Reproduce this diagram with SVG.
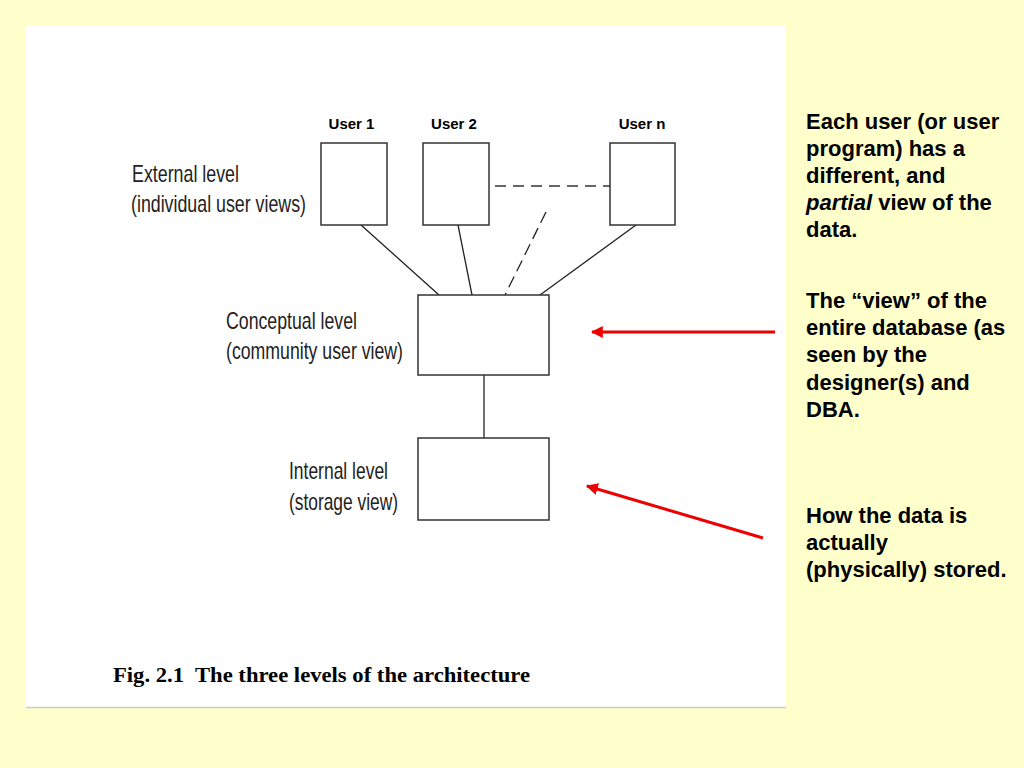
<svg xmlns="http://www.w3.org/2000/svg" width="1024" height="768" viewBox="0 0 1024 768">
<defs>
<style>
.box{fill:#fff;stroke:#333;stroke-width:1.5}
.ln{stroke:#222;stroke-width:1.3;fill:none}
.dash{stroke:#666;stroke-width:2.2;stroke-dasharray:11,7;fill:none}
.dash2{stroke:#222;stroke-width:1.3;stroke-dasharray:12,6;fill:none}
.red{stroke:#ee0000;stroke-width:3;fill:none}
.lvl{font-family:"Liberation Sans",Arial,sans-serif;font-size:24px;fill:#222}
.usr{font-family:"Liberation Sans",Arial,sans-serif;font-size:15px;font-weight:bold;fill:#000;text-anchor:middle}
.note{font-family:"Liberation Sans",Arial,sans-serif;font-size:22px;font-weight:bold;fill:#000}
.cap{font-family:"Liberation Serif","Times New Roman",serif;font-size:21px;font-weight:bold;fill:#000}
</style>
<marker id="ah" viewBox="0 0 10 10" refX="9" refY="5" markerWidth="4" markerHeight="4" orient="auto-start-reverse" markerUnits="strokeWidth">
<path d="M0,0 L10,5 L0,10 z" fill="#ee0000"/>
</marker>
</defs>
<rect x="0" y="0" width="1024" height="768" fill="#ffffcc"/>
<rect x="26" y="26" width="760" height="681" fill="#fff"/>
<line x1="26" y1="707.5" x2="786" y2="707.5" stroke="#ccc" stroke-width="1.5"/>

<g id="connectors">
<line class="ln" x1="361" y1="225" x2="439" y2="295"/>
<line class="ln" x1="458" y1="225" x2="472" y2="295"/>
<line class="dash2" x1="546" y1="212" x2="505" y2="295"/>
<line class="ln" x1="636" y1="225" x2="540" y2="295"/>
<line class="dash" x1="495" y1="186" x2="610" y2="186"/>
<line class="ln" x1="484" y1="375" x2="484" y2="438"/>
<line class="red" x1="775" y1="332" x2="592" y2="332" marker-end="url(#ah)"/>
<line class="red" x1="763" y1="538" x2="587" y2="486" marker-end="url(#ah)"/>
</g>

<g id="user1"><rect class="box" x="321" y="143" width="66" height="82"/><text class="usr" x="351.5" y="129">User 1</text></g>
<g id="user2"><rect class="box" x="423" y="143" width="66" height="82"/><text class="usr" x="454" y="129">User 2</text></g>
<g id="usern"><rect class="box" x="610" y="143" width="65" height="82"/><text class="usr" x="642" y="129">User n</text></g>
<g id="conceptual"><rect class="box" x="418" y="295" width="131" height="80"/></g>
<g id="internal"><rect class="box" x="418" y="438" width="131" height="82"/></g>

<g id="labels">
<text class="lvl" x="132" y="182" textLength="107" lengthAdjust="spacingAndGlyphs">External level</text>
<text class="lvl" x="131" y="212" textLength="175" lengthAdjust="spacingAndGlyphs">(individual user views)</text>
<text class="lvl" x="226" y="329" textLength="131" lengthAdjust="spacingAndGlyphs">Conceptual level</text>
<text class="lvl" x="226" y="359" textLength="177" lengthAdjust="spacingAndGlyphs">(community user view)</text>
<text class="lvl" x="289" y="479" textLength="99" lengthAdjust="spacingAndGlyphs">Internal level</text>
<text class="lvl" x="289" y="510" textLength="109" lengthAdjust="spacingAndGlyphs">(storage view)</text>
</g>

<g id="notes">
<text class="note" x="806" y="129">Each user (or user</text>
<text class="note" x="806" y="156">program) has a</text>
<text class="note" x="806" y="183">different, and</text>
<text class="note" x="806" y="210"><tspan font-style="italic">partial</tspan> view of the</text>
<text class="note" x="806" y="237">data.</text>
<text class="note" x="806" y="308">The “view” of the</text>
<text class="note" x="806" y="335">entire database (as</text>
<text class="note" x="806" y="362">seen by the</text>
<text class="note" x="806" y="390">designer(s) and</text>
<text class="note" x="806" y="417">DBA.</text>
<text class="note" x="806" y="523">How the data is</text>
<text class="note" x="806" y="550">actually</text>
<text class="note" x="806" y="577">(physically) stored.</text>
</g>

<text class="cap" x="113" y="682" textLength="417" lengthAdjust="spacingAndGlyphs" xml:space="preserve">Fig. 2.1  The three levels of the architecture</text>
</svg>
